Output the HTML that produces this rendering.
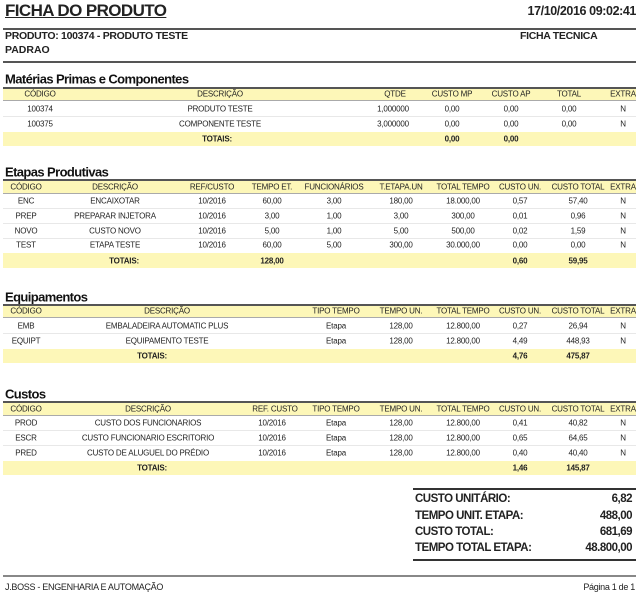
<!DOCTYPE html>
<html><head><meta charset="utf-8"><style>
body{margin:0;width:640px;height:600px;background:#fff;position:relative;overflow:hidden;font-family:"Liberation Sans",sans-serif;color:#222}
.c{position:absolute;transform:translate(-50%,-50%);font-size:8px;white-space:nowrap;letter-spacing:-0.2px}
.b{font-weight:bold}
.l{position:absolute;white-space:nowrap}
.bar{position:absolute;left:3px;width:633px;background:#fdf7b8}
.hb{border-top:2px solid #555;border-bottom:1px solid #aaa}
.rule{position:absolute;left:3px;width:633px;height:2px;background:#555}
.sep{position:absolute;left:3px;width:633px;height:1px;background:#e8e8e8}
.sec{position:absolute;left:5px;font-size:13px;font-weight:bold;transform:translateY(-50%);letter-spacing:-0.6px;color:#111}
.s{position:absolute;font-size:11.5px;font-weight:bold;transform:translateY(-50%);letter-spacing:-0.5px}
</style></head><body>
<div class="l b" style="left:5px;top:1px;font-size:17px;text-decoration:underline;letter-spacing:-0.6px">FICHA DO PRODUTO</div>
<div class="l b" style="right:4px;top:4px;font-size:12.5px;letter-spacing:-0.4px">17/10/2016 09:02:41</div>
<div class="rule" style="top:28px"></div>
<div class="l b" style="left:5px;top:30px;font-size:10.5px;letter-spacing:-0.3px">PRODUTO: 100374 - PRODUTO TESTE</div>
<div class="l b" style="left:520px;top:30px;font-size:10.5px;letter-spacing:-0.3px">FICHA TECNICA</div>
<div class="l b" style="left:5px;top:44px;font-size:10.5px">PADRAO</div>
<div class="rule" style="top:61px"></div>

<!-- MP -->
<div class="sec" style="top:79px">Matérias Primas e Componentes</div>
<div class="bar hb" style="top:87px;height:11px"></div>
<div class="c" style="left:40px;top:94px">CÓDIGO</div><div class="c" style="left:220px;top:94px">DESCRIÇÃO</div><div class="c" style="left:395px;top:94px">QTDE</div><div class="c" style="left:452px;top:94px">CUSTO MP</div><div class="c" style="left:511px;top:94px">CUSTO AP</div><div class="c" style="left:569px;top:94px">TOTAL</div><div class="c" style="left:623px;top:94px">EXTRA</div>
<div class="c" style="left:40px;top:109px">100374</div><div class="c" style="left:220px;top:109px">PRODUTO TESTE</div><div class="c" style="left:393px;top:109px">1,000000</div><div class="c" style="left:452px;top:109px">0,00</div><div class="c" style="left:511px;top:109px">0,00</div><div class="c" style="left:569px;top:109px">0,00</div><div class="c" style="left:623px;top:109px">N</div>
<div class="sep" style="top:116px"></div>
<div class="c" style="left:40px;top:124px">100375</div><div class="c" style="left:220px;top:124px">COMPONENTE TESTE</div><div class="c" style="left:393px;top:124px">3,000000</div><div class="c" style="left:452px;top:124px">0,00</div><div class="c" style="left:511px;top:124px">0,00</div><div class="c" style="left:569px;top:124px">0,00</div><div class="c" style="left:623px;top:124px">N</div>
<div class="bar" style="top:132px;height:14px"></div>
<div class="c b" style="left:217px;top:139px">TOTAIS:</div><div class="c b" style="left:452px;top:139px">0,00</div><div class="c b" style="left:511px;top:139px">0,00</div>

<!-- Etapas -->
<div class="sec" style="top:172px">Etapas Produtivas</div>
<div class="bar hb" style="top:179px;height:12px"></div>
<div class="c" style="left:26px;top:187px">CÓDIGO</div><div class="c" style="left:115px;top:187px">DESCRIÇÃO</div><div class="c" style="left:212px;top:187px">REF/CUSTO</div><div class="c" style="left:272px;top:187px">TEMPO ET.</div><div class="c" style="left:334px;top:187px">FUNCIONÁRIOS</div><div class="c" style="left:401px;top:187px">T.ETAPA.UN</div><div class="c" style="left:463px;top:187px">TOTAL TEMPO</div><div class="c" style="left:520px;top:187px">CUSTO UN.</div><div class="c" style="left:578px;top:187px">CUSTO TOTAL</div><div class="c" style="left:623px;top:187px">EXTRA</div>

<div class="c" style="left:26px;top:201px">ENC</div><div class="c" style="left:115px;top:201px">ENCAIXOTAR</div><div class="c" style="left:212px;top:201px">10/2016</div><div class="c" style="left:272px;top:201px">60,00</div><div class="c" style="left:334px;top:201px">3,00</div><div class="c" style="left:401px;top:201px">180,00</div><div class="c" style="left:463px;top:201px">18.000,00</div><div class="c" style="left:520px;top:201px">0,57</div><div class="c" style="left:578px;top:201px">57,40</div><div class="c" style="left:623px;top:201px">N</div>
<div class="sep" style="top:208px"></div>
<div class="c" style="left:26px;top:216px">PREP</div><div class="c" style="left:115px;top:216px">PREPARAR INJETORA</div><div class="c" style="left:212px;top:216px">10/2016</div><div class="c" style="left:272px;top:216px">3,00</div><div class="c" style="left:334px;top:216px">1,00</div><div class="c" style="left:401px;top:216px">3,00</div><div class="c" style="left:463px;top:216px">300,00</div><div class="c" style="left:520px;top:216px">0,01</div><div class="c" style="left:578px;top:216px">0,96</div><div class="c" style="left:623px;top:216px">N</div>
<div class="sep" style="top:223px"></div>
<div class="c" style="left:26px;top:231px">NOVO</div><div class="c" style="left:115px;top:231px">CUSTO NOVO</div><div class="c" style="left:212px;top:231px">10/2016</div><div class="c" style="left:272px;top:231px">5,00</div><div class="c" style="left:334px;top:231px">1,00</div><div class="c" style="left:401px;top:231px">5,00</div><div class="c" style="left:463px;top:231px">500,00</div><div class="c" style="left:520px;top:231px">0,02</div><div class="c" style="left:578px;top:231px">1,59</div><div class="c" style="left:623px;top:231px">N</div>
<div class="sep" style="top:238px"></div>
<div class="c" style="left:26px;top:245px">TEST</div><div class="c" style="left:115px;top:245px">ETAPA TESTE</div><div class="c" style="left:212px;top:245px">10/2016</div><div class="c" style="left:272px;top:245px">60,00</div><div class="c" style="left:334px;top:245px">5,00</div><div class="c" style="left:401px;top:245px">300,00</div><div class="c" style="left:463px;top:245px">30.000,00</div><div class="c" style="left:520px;top:245px">0,00</div><div class="c" style="left:578px;top:245px">0,00</div><div class="c" style="left:623px;top:245px">N</div>
<div class="bar" style="top:253px;height:15px"></div>
<div class="c b" style="left:124px;top:261px">TOTAIS:</div><div class="c b" style="left:272px;top:261px">128,00</div><div class="c b" style="left:520px;top:261px">0,60</div><div class="c b" style="left:578px;top:261px">59,95</div>

<!-- Equipamentos -->
<div class="sec" style="top:297px">Equipamentos</div>
<div class="bar hb" style="top:304px;height:11px"></div>
<div class="c" style="left:26px;top:311px">CÓDIGO</div><div class="c" style="left:167px;top:311px">DESCRIÇÃO</div><div class="c" style="left:336px;top:311px">TIPO TEMPO</div><div class="c" style="left:401px;top:311px">TEMPO UN.</div><div class="c" style="left:463px;top:311px">TOTAL TEMPO</div><div class="c" style="left:520px;top:311px">CUSTO UN.</div><div class="c" style="left:578px;top:311px">CUSTO TOTAL</div><div class="c" style="left:623px;top:311px">EXTRA</div>
<div class="c" style="left:26px;top:326px">EMB</div><div class="c" style="left:167px;top:326px">EMBALADEIRA AUTOMATIC PLUS</div><div class="c" style="left:336px;top:326px">Etapa</div><div class="c" style="left:401px;top:326px">128,00</div><div class="c" style="left:463px;top:326px">12.800,00</div><div class="c" style="left:520px;top:326px">0,27</div><div class="c" style="left:578px;top:326px">26,94</div><div class="c" style="left:623px;top:326px">N</div>
<div class="sep" style="top:333px"></div>
<div class="c" style="left:26px;top:341px">EQUIPT</div><div class="c" style="left:167px;top:341px">EQUIPAMENTO TESTE</div><div class="c" style="left:336px;top:341px">Etapa</div><div class="c" style="left:401px;top:341px">128,00</div><div class="c" style="left:463px;top:341px">12.800,00</div><div class="c" style="left:520px;top:341px">4,49</div><div class="c" style="left:578px;top:341px">448,93</div><div class="c" style="left:623px;top:341px">N</div>
<div class="bar" style="top:349px;height:14px"></div>
<div class="c b" style="left:152px;top:356px">TOTAIS:</div><div class="c b" style="left:520px;top:356px">4,76</div><div class="c b" style="left:578px;top:356px">475,87</div>

<!-- Custos -->
<div class="sec" style="top:394px">Custos</div>
<div class="bar hb" style="top:401px;height:12px"></div>
<div class="c" style="left:26px;top:409px">CÓDIGO</div><div class="c" style="left:148px;top:409px">DESCRIÇÃO</div><div class="c" style="left:275px;top:409px">REF. CUSTO</div><div class="c" style="left:336px;top:409px">TIPO TEMPO</div><div class="c" style="left:401px;top:409px">TEMPO UN.</div><div class="c" style="left:463px;top:409px">TOTAL TEMPO</div><div class="c" style="left:520px;top:409px">CUSTO UN.</div><div class="c" style="left:578px;top:409px">CUSTO TOTAL</div><div class="c" style="left:623px;top:409px">EXTRA</div>
<div class="c" style="left:26px;top:423px">PROD</div><div class="c" style="left:148px;top:423px">CUSTO DOS FUNCIONARIOS</div><div class="c" style="left:272px;top:423px">10/2016</div><div class="c" style="left:336px;top:423px">Etapa</div><div class="c" style="left:401px;top:423px">128,00</div><div class="c" style="left:463px;top:423px">12.800,00</div><div class="c" style="left:520px;top:423px">0,41</div><div class="c" style="left:578px;top:423px">40,82</div><div class="c" style="left:623px;top:423px">N</div>
<div class="sep" style="top:430px"></div>
<div class="c" style="left:26px;top:438px">ESCR</div><div class="c" style="left:148px;top:438px">CUSTO FUNCIONARIO ESCRITORIO</div><div class="c" style="left:272px;top:438px">10/2016</div><div class="c" style="left:336px;top:438px">Etapa</div><div class="c" style="left:401px;top:438px">128,00</div><div class="c" style="left:463px;top:438px">12.800,00</div><div class="c" style="left:520px;top:438px">0,65</div><div class="c" style="left:578px;top:438px">64,65</div><div class="c" style="left:623px;top:438px">N</div>
<div class="sep" style="top:445px"></div>
<div class="c" style="left:26px;top:453px">PRED</div><div class="c" style="left:148px;top:453px">CUSTO DE ALUGUEL DO PRÉDIO</div><div class="c" style="left:272px;top:453px">10/2016</div><div class="c" style="left:336px;top:453px">Etapa</div><div class="c" style="left:401px;top:453px">128,00</div><div class="c" style="left:463px;top:453px">12.800,00</div><div class="c" style="left:520px;top:453px">0,40</div><div class="c" style="left:578px;top:453px">40,40</div><div class="c" style="left:623px;top:453px">N</div>
<div class="bar" style="top:461px;height:14px"></div>
<div class="c b" style="left:152px;top:468px">TOTAIS:</div><div class="c b" style="left:520px;top:468px">1,46</div><div class="c b" style="left:578px;top:468px">145,87</div>

<!-- Summary -->
<div style="position:absolute;left:413px;top:488px;width:223px;height:2px;background:#333"></div>
<div class="s" style="left:415px;top:499px">CUSTO UNITÁRIO:</div><div class="s" style="right:8px;top:499px">6,82</div>
<div class="s" style="left:415px;top:516px">TEMPO UNIT. ETAPA:</div><div class="s" style="right:8px;top:516px">488,00</div>
<div class="s" style="left:415px;top:532px">CUSTO TOTAL:</div><div class="s" style="right:8px;top:532px">681,69</div>
<div class="s" style="left:415px;top:548px">TEMPO TOTAL ETAPA:</div><div class="s" style="right:8px;top:548px">48.800,00</div>
<div style="position:absolute;left:413px;top:559px;width:223px;height:2px;background:#333"></div>

<div style="position:absolute;left:3px;top:575px;width:633px;height:2px;background:#888"></div>
<div class="l" style="left:5px;top:582px;font-size:9px;letter-spacing:-0.3px">J.BOSS - ENGENHARIA E AUTOMAÇÃO</div>
<div class="l" style="right:5px;top:582px;font-size:9px;letter-spacing:-0.3px">Página 1 de 1</div>
</body></html>
